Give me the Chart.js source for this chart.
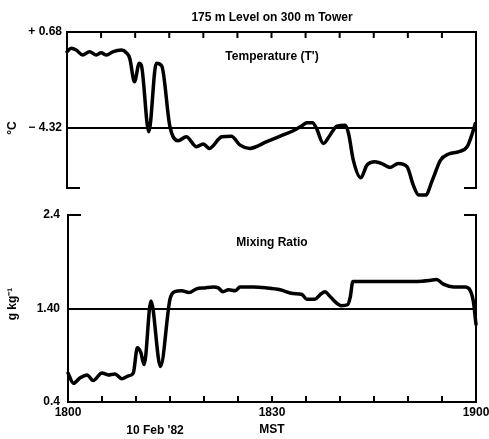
<!DOCTYPE html>
<html>
<head>
<meta charset="utf-8">
<script src="https://cdn.jsdelivr.net/npm/chart.js@4.4.1/dist/chart.umd.min.js"></script>
<style>
  body { margin: 0; background: #fff; }
  #wrap { position: relative; width: 489px; height: 439px; overflow: hidden; }
  canvas { position: absolute; left: 0; }
</style>
</head>
<body>
<div id="wrap">
  <canvas id="tempChart" width="489" height="200" style="top:0"></canvas>
  <canvas id="mixChart" width="489" height="239" style="top:200px"></canvas>
</div>
<script>
// minutes after 1800 MST, 10 Feb '82
const tempMin = [0, 0.6, 1.35, 2.3, 3.3, 4.3, 5.0, 5.8, 6.7, 8.0, 8.7, 9.2, 9.9, 10.6, 10.9, 12.0, 13.1, 13.9,
  15.1, 16.3, 17.5, 19.0, 20.0, 20.9, 22.7, 24.1, 25.4, 26.8, 29.3, 31.7, 33.2, 34.4, 35.2, 36.0, 36.6,
  37.6, 38.6, 39.6, 40.8, 41.3, 42.0, 43.1, 44.0, 45.2, 46.4, 47.4, 48.6, 49.9, 50.8, 51.6, 52.6, 53.6,
  54.8, 56.0, 57.5, 58.7, 59.3, 59.9];
const tempVals = [-0.35, -0.17, -0.26, -0.52, -0.35, -0.52, -0.40, -0.52, -0.35, -0.26, -0.40, -0.69, -1.91, -0.95, -1.04, -4.51, -0.95, -1.09,
  -4.25, -4.98, -4.77, -5.29, -5.15, -5.38, -4.77, -4.74, -5.21, -5.38, -5.03, -4.68, -4.46, -4.22, -4.04, -4.04, -4.34,
  -5.12, -4.68, -4.22, -4.18, -4.60, -5.99, -6.91, -6.25, -6.07, -6.21, -6.37, -6.16, -6.34, -7.29, -7.81, -7.81, -7.03,
  -5.99, -5.67, -5.55, -5.29, -4.77, -4.08];

const mixMin = [0, 0.8, 1.8, 2.8, 3.7, 5.0, 5.9, 6.9, 7.9, 8.9, 9.6, 10.2, 10.7, 11.2, 12.2, 13.6, 15.0, 15.7,
  16.7, 17.8, 18.9, 20.1, 21.4, 22.1, 22.8, 23.6, 24.6, 25.3, 27.3, 29.2, 31.2, 33.1, 34.4, 35.1, 36.3,
  37.1, 37.8, 38.4, 39.3, 40.2, 41.1, 41.5, 41.9, 43.9, 48.8, 51.3, 53.2, 54.2, 55.2, 56.7, 58.4, 59.1, 59.6, 60];
const mixVals = [0.71, 0.60, 0.66, 0.69, 0.63, 0.71, 0.69, 0.70, 0.65, 0.68, 0.71, 0.98, 0.93, 0.80, 1.48, 0.78, 1.50, 1.58,
  1.59, 1.57, 1.61, 1.62, 1.63, 1.62, 1.58, 1.60, 1.59, 1.63, 1.63, 1.62, 1.60, 1.56, 1.55, 1.50, 1.50,
  1.55, 1.58, 1.54, 1.47, 1.43, 1.44, 1.52, 1.69, 1.69, 1.69, 1.69, 1.70, 1.71, 1.66, 1.63, 1.63, 1.60, 1.48, 1.23];

const tempTicks = [0.68, -4.32];
const tempTickText = ['+ 0.68', '\u2212 4.32'];
const mixTicks = [0.4, 1.4, 2.4];
const mixTickText = ['0.4', '1.40', '2.4'];
const timeTicks = [0, 30, 60];
const timeTickText = ['1800', '1830', '1900'];

Chart.defaults.font.family = '"Liberation Sans", Arial, sans-serif';
Chart.defaults.font.size = 12;
Chart.defaults.font.weight = 'bold';
Chart.defaults.color = '#000';

function pts(xs, ys) {
  return xs.map((v, i) => ({ x: v, y: ys[i] }));
}

// frame: full line with inward ticks on one side, short stubs on the other
const framePlugin = {
  id: 'frame',
  afterDraw(chart, args, opts) {
    const { ctx, chartArea: a } = chart;
    const x = chart.scales.x;
    const full = opts.side === 'top' ? a.top : a.bottom;
    const stub = opts.side === 'top' ? a.bottom : a.top;
    const dir = opts.side === 'top' ? 1 : -1;
    ctx.save();
    ctx.strokeStyle = '#000';
    ctx.lineWidth = 2;
    ctx.beginPath();
    ctx.moveTo(a.left, a.top - 1); ctx.lineTo(a.left, a.bottom + 1);
    ctx.moveTo(a.right, a.top - 1); ctx.lineTo(a.right, a.bottom + 1);
    ctx.moveTo(a.left, full); ctx.lineTo(a.right, full);
    ctx.moveTo(a.left, stub); ctx.lineTo(a.left + 13, stub);
    ctx.moveTo(a.right - 12, stub); ctx.lineTo(a.right, stub);
    for (let m = 5; m < 60; m += 5) {
      const px = x.getPixelForValue(m);
      ctx.moveTo(px, full);
      ctx.lineTo(px, full + dir * 6);
    }
    ctx.stroke();

    ctx.fillStyle = '#000';
    ctx.font = 'bold 12px "Liberation Sans", Arial, sans-serif';
    ctx.textAlign = 'center';
    ctx.textBaseline = 'middle';
    (opts.labels || []).forEach(l => ctx.fillText(l.text, l.x, l.y));
    if (opts.yTitle) {
      ctx.translate(opts.yTitle.x, opts.yTitle.y);
      ctx.rotate(-Math.PI / 2);
      ctx.fillText(opts.yTitle.text, 0, 0);
    }
    ctx.restore();
  }
};

function refGrid(refValue) {
  return {
    display: true,
    drawTicks: false,
    lineWidth: 2,
    color: c => (c.tick && Math.abs(c.tick.value - refValue) < 1e-6) ? '#000' : 'rgba(0,0,0,0)'
  };
}

function lineSet(xs, ys) {
  return {
    data: pts(xs, ys),
    borderColor: '#000',
    borderWidth: 3.5,
    pointRadius: 0,
    cubicInterpolationMode: 'monotone',
    clip: false,
    borderJoinStyle: 'round',
    borderCapStyle: 'round'
  };
}

new Chart(document.getElementById('tempChart'), {
  type: 'line',
  data: { datasets: [lineSet(tempMin, tempVals)] },
  options: {
    responsive: false,
    animation: false,
    layout: { padding: { top: 32, right: 13, bottom: 12, left: 0 } },
    plugins: {
      legend: { display: false },
      tooltip: { enabled: false },
      frame: {
        side: 'top',
        labels: [
          { text: '175 m Level on 300 m Tower', x: 272, y: 18 },
          { text: "Temperature (T')", x: 272, y: 57 }
        ],
        yTitle: { text: '\u00b0C', x: 13, y: 128 }
      }
    },
    scales: {
      x: { type: 'linear', min: 0, max: 60, display: false },
      y: {
        min: -7.44, max: 0.68,
        afterBuildTicks: s => { s.ticks = tempTicks.map(v => ({ value: v })); },
        afterFit: s => { s.width = 67; s.paddingTop = 0; s.paddingBottom = 0; },
        ticks: { padding: 5, callback: (v, i) => tempTickText[i] },
        grid: refGrid(-4.32),
        border: { display: false }
      }
    }
  },
  plugins: [framePlugin]
});

new Chart(document.getElementById('mixChart'), {
  type: 'line',
  data: { datasets: [lineSet(mixMin, mixVals)] },
  options: {
    responsive: false,
    animation: false,
    layout: { padding: { top: 15, right: 13, bottom: 0, left: 0 } },
    plugins: {
      legend: { display: false },
      tooltip: { enabled: false },
      frame: {
        side: 'bottom',
        labels: [
          { text: 'Mixing Ratio', x: 272, y: 43 },
          { text: "10 Feb '82", x: 155, y: 231 }
        ],
        yTitle: { text: 'g kg\u207b\u00b9', x: 13, y: 104 }
      }
    },
    scales: {
      x: {
        type: 'linear', min: 0, max: 60,
        afterBuildTicks: s => { s.ticks = timeTicks.map(v => ({ value: v })); },
        afterFit: s => { s.height = 37; s.paddingLeft = 0; s.paddingRight = 0; },
        ticks: { padding: 3, maxRotation: 0, autoSkip: false, callback: (v, i) => timeTickText[i] },
        grid: { display: false, drawTicks: false },
        border: { display: false },
        title: { display: true, text: 'MST', padding: { top: 0, bottom: 2 } }
      },
      y: {
        min: 0.4, max: 2.4,
        afterBuildTicks: s => { s.ticks = mixTicks.map(v => ({ value: v })); },
        afterFit: s => { s.width = 68; s.paddingTop = 0; s.paddingBottom = 0; },
        ticks: { padding: 8, callback: (v, i) => mixTickText[i] },
        grid: refGrid(1.4),
        border: { display: false }
      }
    }
  },
  plugins: [framePlugin]
});
</script>
</body>
</html>
